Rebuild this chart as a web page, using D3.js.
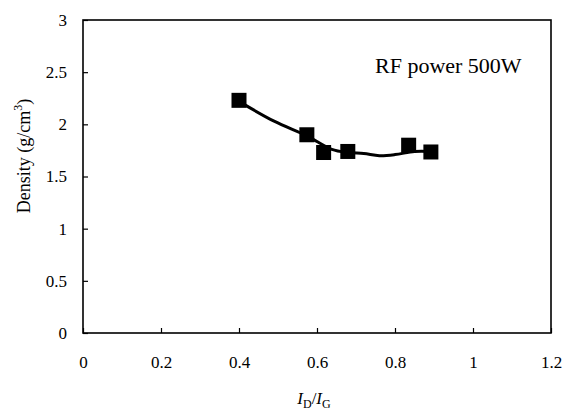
<!DOCTYPE html>
<html>
<head>
<meta charset="utf-8">
<script src="https://cdn.jsdelivr.net/npm/d3@7"></script>
<style>
  body { margin: 0; background: #fff; }
  svg { display: block; }
</style>
</head>
<body>
<div id="chart"></div>
<script>
// measured points (I_D/I_G, density)
const ratio = [0.40, 0.574, 0.617, 0.679, 0.835, 0.892];
const density = [2.23, 1.90, 1.73, 1.74, 1.80, 1.735];

// hand-drawn trend line
const trendX = [0.40, 0.49, 0.574, 0.638, 0.68, 0.72, 0.76, 0.80, 0.85, 0.892];
const trendY = [2.22, 2.03, 1.89, 1.76, 1.73, 1.72, 1.70, 1.71, 1.74, 1.74];

const xTicks = [0, 0.2, 0.4, 0.6, 0.8, 1, 1.2];
const yTicks = [0, 0.5, 1, 1.5, 2, 2.5, 3];

(function chart(){
let width = 570,
    height = 410,
    margin = ({top: 20, right: 19, bottom: 77, left: 83});
const serif = "font-family:'Liberation Serif','Times New Roman',serif;";

const svg = d3.select("#chart")
    .append("svg")
    .attr("width", width)
    .attr("height", height);

let x = d3.scaleLinear()
    .domain([0, 1.2])
    .range([margin.left, width - margin.right]);

let y = d3.scaleLinear()
    .domain([0, 3])
    .range([height - margin.bottom, margin.top]);

// frame
svg.append("rect")
    .attr("x", margin.left)
    .attr("y", margin.top)
    .attr("width", x(1.2) - x(0))
    .attr("height", y(0) - y(3))
    .attr("fill", "none")
    .attr("stroke", "#000")
    .attr("stroke-width", 1.6);

const xAxis = g => g
    .attr("transform", `translate(0,${y(0)})`)
    .call(d3.axisBottom(x).tickValues(xTicks).tickFormat(d3.format("")).tickSize(-5).tickSizeOuter(0).tickPadding(23))
    .call(g => g.select(".domain").remove());

const yAxis = g => g
    .attr("transform", `translate(${x(0)},0)`)
    .call(d3.axisLeft(y).tickValues(yTicks).tickFormat(d3.format("")).tickSize(-5).tickSizeOuter(0).tickPadding(16))
    .call(g => g.select(".domain").remove());

svg.append("g").call(xAxis);
svg.append("g").call(yAxis);

svg.selectAll(".tick line").attr("stroke", "#000").attr("stroke-width", 1.2);
svg.selectAll(".tick text")
    .attr("fill", "#000")
    .attr("style", serif + "font-size:17px");

// trend line
const line = d3.line()
    .x(i => x(trendX[i]))
    .y(i => y(trendY[i]))
    .curve(d3.curveCatmullRom);

svg.append("path")
    .datum(d3.range(trendX.length))
    .attr("d", line)
    .attr("fill", "none")
    .attr("stroke", "#000")
    .attr("stroke-width", 3);

// markers
const s = 15;
svg.selectAll(".pt")
    .data(d3.range(ratio.length))
    .join("rect")
    .attr("class", "pt")
    .attr("x", i => x(ratio[i]) - s/2)
    .attr("y", i => y(density[i]) - s/2)
    .attr("width", s)
    .attr("height", s)
    .attr("fill", "#000");

// annotation
svg.append("text")
    .attr("transform", "translate(375,73) scale(1.1,1)")
    .attr("style", serif + "font-size:20px")
    .text("RF power 500W");

// y label
svg.append("text")
    .attr("transform", `translate(30,156) rotate(-90)`)
    .attr("text-anchor", "middle")
    .attr("style", serif + "font-size:18px")
    .call(t => {
        t.append("tspan").text("Density (g/cm");
        t.append("tspan").attr("style", "font-size:12px").attr("dy", -8).text("3");
        t.append("tspan").attr("dy", 8).text(")");
    });

// x label
svg.append("text")
    .attr("x", 314)
    .attr("y", 404)
    .attr("text-anchor", "middle")
    .attr("style", serif + "font-size:17px")
    .call(t => {
        t.append("tspan").attr("font-style", "italic").text("I");
        t.append("tspan").attr("style", "font-size:12px").attr("dy", 4).text("D");
        t.append("tspan").attr("dy", -4).text("/");
        t.append("tspan").attr("font-style", "italic").text("I");
        t.append("tspan").attr("style", "font-size:12px").attr("dy", 4).text("G");
    });
})();
</script>
</body>
</html>
